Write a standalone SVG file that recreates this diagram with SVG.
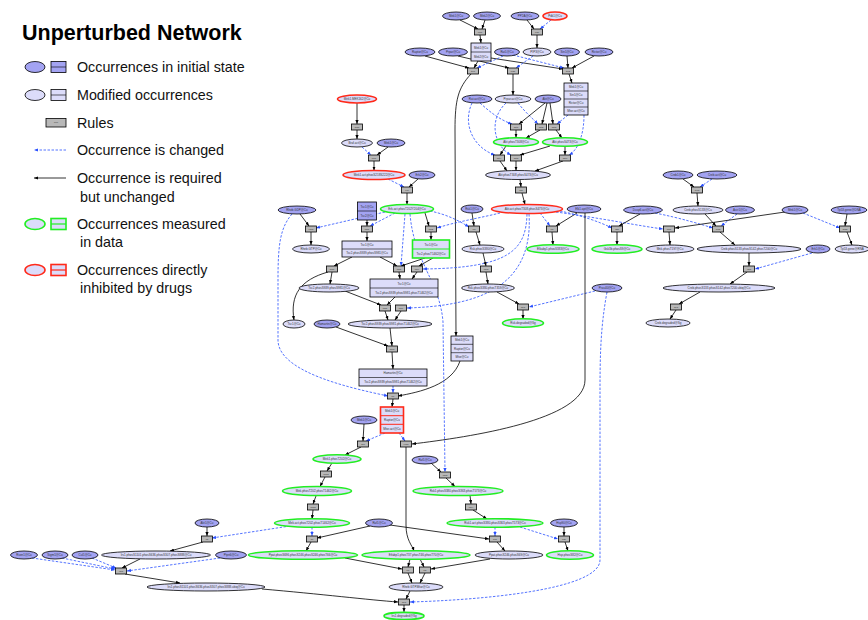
<svg xmlns="http://www.w3.org/2000/svg" width="868" height="620" viewBox="0 0 868 620">
<style>
.b{fill:#a3a3f2;stroke:#000;stroke-width:0.8}
.l{fill:#dcdcfa;stroke:#000;stroke-width:0.8}
.g{fill:#dcdcfa;stroke:#22ee22;stroke-width:1.6}
.r{fill:#dcdcfa;stroke:#ff2a1a;stroke-width:1.6}
.ru{fill:#b8b8b8;stroke:#000;stroke-width:0.8}
.sep{stroke:#000;stroke-width:0.6}
.k{fill:none;stroke:#000;stroke-width:0.8;marker-end:url(#ak)}
.d{fill:none;stroke:#2a50ff;stroke-width:0.8;stroke-dasharray:2.5 1.5;marker-end:url(#ab)}
.t{font-family:"Liberation Sans",Arial,sans-serif;font-size:3px;fill:#333;text-anchor:middle;dominant-baseline:central}
.lg{font-family:"Liberation Sans",Arial,sans-serif;font-size:14.3px;fill:#111}
.ttl{font-family:"Liberation Sans",Arial,sans-serif;font-size:21.5px;font-weight:bold;fill:#000}
</style>
<defs>
<marker id="ak" viewBox="0 0 10 10" refX="10" refY="5" markerUnits="userSpaceOnUse" markerWidth="4" markerHeight="4" orient="auto"><path d="M0,1L10,5L0,9z" fill="#000"/></marker>
<marker id="ab" viewBox="0 0 10 10" refX="10" refY="5" markerUnits="userSpaceOnUse" markerWidth="4" markerHeight="4" orient="auto"><path d="M0,1L10,5L0,9z" fill="#2a50ff"/></marker>
</defs>
<rect width="868" height="620" fill="#fff"/>

<g id="legend">
<text class="ttl" x="22" y="40">Unperturbed Network</text>
<ellipse class="b" cx="35" cy="67" rx="10" ry="5.5"/>
<rect class="b" x="51" y="61.5" width="15" height="11"/><line class="sep" x1="51" y1="67" x2="66" y2="67"/>
<text class="lg" x="77" y="72">Occurrences in initial state</text>
<ellipse class="l" cx="35" cy="95" rx="10" ry="5.5"/>
<rect class="l" x="51" y="89.5" width="15" height="11"/><line class="sep" x1="51" y1="95" x2="66" y2="95"/>
<text class="lg" x="77" y="100">Modified occurrences</text>
<rect class="ru" x="46" y="118.5" width="20" height="8.5"/><text class="t" x="56" y="122.8" style="font-size:2.5px">rule</text>
<text class="lg" x="77" y="128">Rules</text>
<line class="d" x1="66" y1="150" x2="34" y2="150"/>
<text class="lg" x="77" y="155">Occurrence is changed</text>
<line class="k" x1="66" y1="178" x2="34" y2="178"/>
<text class="lg" x="77" y="183">Occurrence is required</text>
<text class="lg" x="80" y="202">but unchanged</text>
<ellipse class="g" cx="35" cy="224" rx="10" ry="5.5"/>
<rect class="g" x="51" y="218.5" width="15" height="11"/><line x1="51" y1="224" x2="66" y2="224" stroke="#22ee22" stroke-width="1.2"/>
<text class="lg" x="77" y="229">Occurrences measured</text>
<text class="lg" x="80" y="247">in data</text>
<ellipse class="r" cx="35" cy="270" rx="10" ry="5.5"/>
<rect class="r" x="51" y="264.5" width="15" height="11"/><line x1="51" y1="270" x2="66" y2="270" stroke="#ff2a1a" stroke-width="1.2"/>
<text class="lg" x="77" y="275">Occurrences directly</text>
<text class="lg" x="80" y="293">inhibited by drugs</text>
</g>

<g id="connectors">
<path class="k" d="M460,20L478,29"/>
<path class="k" d="M485,20L482,29"/>
<path class="k" d="M527,20L534,29"/>
<path class="d" d="M551,20L540,29"/>
<path class="k" d="M480,35L481,43"/>
<path class="k" d="M537,35L537,48"/>
<path class="k" d="M425,56L469,68"/>
<path class="k" d="M458,56L509,68"/>
<path class="k" d="M478,61L474,68"/>
<path class="k" d="M491,58L563,69"/>
<path class="d" d="M503,56L477,68"/>
<path class="d" d="M513,55L564,68"/>
<path class="d" d="M533,56L516,68"/>
<path class="k" d="M567,56L568,68"/>
<path class="k" d="M594,56L572,68"/>
<path class="k" d="M569,74L572,83"/>
<path class="k" d="M513,74L513,95"/>
<path class="k" d="M471,74C458,88 455,100 455,130L456,336"/>
<path class="d" d="M480,103C490,112 500,120 512,124"/>
<path class="d" d="M472,103C462,125 474,148 495,155"/>
<path class="d" d="M518,103C525,112 532,118 538,124"/>
<path class="d" d="M506,103C488,120 494,146 511,155"/>
<path class="k" d="M545,103L519,124"/>
<path class="k" d="M547,103L542,124"/>
<path class="k" d="M550,103L553,124"/>
<path class="d" d="M568,115L557,124"/>
<path class="d" d="M584,115C584,135 578,150 569,155"/>
<path class="k" d="M516,130L516,137.5"/>
<path class="k" d="M540,130L526,138"/>
<path class="k" d="M556,130L562,138"/>
<path class="k" d="M506,146L500,155"/>
<path class="k" d="M550,146L520,155"/>
<path class="k" d="M565,146L565,155"/>
<path class="k" d="M500,161L507,171"/>
<path class="k" d="M516,161L516,170.5"/>
<path class="k" d="M563,161L535,171"/>
<path class="k" d="M520,179.5L521,187"/>
<path class="k" d="M357,103L357,124"/>
<path class="k" d="M357,130L357,139"/>
<path class="d" d="M362,147L371,155"/>
<path class="k" d="M388,147L377,155"/>
<path class="k" d="M374,161L374,170.5"/>
<path class="d" d="M388,179L404,187"/>
<path class="k" d="M418,179L409,187"/>
<path class="k" d="M407,193L407,204.5"/>
<path class="k" d="M522,193L525,204.5"/>
<path class="k" d="M300,214L309,226"/>
<path class="d" d="M385,212L316,228"/>
<path class="d" d="M395,213L370,226"/>
<path class="k" d="M367,220L367,226"/>
<path class="k" d="M425,213L429,226"/>
<path class="d" d="M500,213C480,218 455,222 437,228"/>
<path class="d" d="M430,211C445,214 458,220 469,227"/>
<path class="k" d="M472,213L474,226"/>
<path class="d" d="M540,213L550,226"/>
<path class="k" d="M577,213L556,226"/>
<path class="d" d="M560,211C580,215 600,222 612,228"/>
<path class="d" d="M556,212C600,218 640,226 663,229"/>
<path class="k" d="M640,214L619,226"/>
<path class="d" d="M655,213C680,218 700,224 713,228"/>
<path class="k" d="M705,214L716,226"/>
<path class="d" d="M737,214L721,226"/>
<path class="k" d="M785,212L675,228"/>
<path class="d" d="M803,213L840,228"/>
<path class="k" d="M847,214L845,226"/>
<path class="k" d="M683,179L694,187"/>
<path class="d" d="M712,179L700,187"/>
<path class="k" d="M697,193L698,206"/>
<path class="k" d="M311,232L311,245"/>
<path class="k" d="M367,232L367,241"/>
<path class="k" d="M431,232L431,240"/>
<path class="k" d="M476,232L480,245"/>
<path class="k" d="M552,232L553,245"/>
<path class="k" d="M617,232L617,245"/>
<path class="k" d="M669,232L670,245"/>
<path class="k" d="M720,232L735,245"/>
<path class="k" d="M847,232L852,245"/>
<path class="k" d="M352,257L334,266"/>
<path class="k" d="M380,257L397,266"/>
<path class="k" d="M425,258L401,266"/>
<path class="k" d="M433,258L419,266"/>
<path class="d" d="M405,214L401,266"/>
<path class="d" d="M527,214C526,250 510,268 423,269"/>
<path class="k" d="M483,253L486,266"/>
<path class="k" d="M749,253L749,266"/>
<path class="d" d="M812,253L755,269"/>
<path class="k" d="M332,272L330,284"/>
<path class="k" d="M328,272C300,280 290,295 294,320"/>
<path class="k" d="M399,272L400,279"/>
<path class="k" d="M417,272L412,279"/>
<path class="k" d="M486,272L488,284"/>
<path class="k" d="M747,272L730,284"/>
<path class="k" d="M345,291L381,305"/>
<path class="k" d="M395,297L387,305"/>
<path class="d" d="M529,214C534,292 470,306 407,308"/>
<path class="k" d="M497,292L519,304"/>
<path class="d" d="M595,291L529,307"/>
<path class="k" d="M523,310L523,319"/>
<path class="k" d="M385,311L388,320"/>
<path class="k" d="M401,311L395,320"/>
<path class="k" d="M700,292L679,304"/>
<path class="k" d="M676,310L670,319"/>
<path class="k" d="M336,327L388,346"/>
<path class="k" d="M390,328L392,346"/>
<path class="k" d="M392,352L393,369"/>
<path class="d" d="M393,386L393,393"/>
<path class="k" d="M460,361C452,385 420,392 398,396"/>
<path class="d" d="M292,214C280,228 278,245 278,280L278,340C278,372 350,388 388,396"/>
<path class="k" d="M393,399L392,407"/>
<path class="d" d="M410,214C414,262 440,282 443,322L445,472"/>
<path class="d" d="M385,433L366,441"/>
<path class="d" d="M399,433L405,441"/>
<path class="k" d="M364,424L363,441"/>
<path class="k" d="M585,213L585,380C585,420 470,437 412,444"/>
<path class="k" d="M361,447L345,455"/>
<path class="k" d="M332,463L327,471"/>
<path class="k" d="M325,477L320,486.5"/>
<path class="k" d="M406,447L406,525C406,540 412,545 414,551"/>
<path class="k" d="M431,463L441,472"/>
<path class="k" d="M446,478L455,486.5"/>
<path class="k" d="M316,496L313,504"/>
<path class="k" d="M470,495.5L471,504"/>
<path class="k" d="M313,510L312,519"/>
<path class="k" d="M473,510L487,519"/>
<path class="d" d="M290,526L212,538"/>
<path class="d" d="M312,527L312,536"/>
<path class="k" d="M370,526L317,538"/>
<path class="k" d="M390,525L489,539"/>
<path class="k" d="M207,527L207,536"/>
<path class="d" d="M495,527L495,536"/>
<path class="d" d="M520,527L558,539"/>
<path class="k" d="M564,527L564,536"/>
<path class="k" d="M203,542L170,551"/>
<path class="k" d="M311,542L306,551"/>
<path class="k" d="M497,542L505,551"/>
<path class="k" d="M565,542L568,551"/>
<path class="d" d="M32,558L115,570"/>
<path class="d" d="M62,558L115,569"/>
<path class="d" d="M92,558L116,568"/>
<path class="d" d="M220,558L127,571"/>
<path class="k" d="M140,559L122,568"/>
<path class="k" d="M125,574L180,583"/>
<path class="k" d="M345,558L402,569"/>
<path class="k" d="M410,559L408,567"/>
<path class="k" d="M420,559L424,567"/>
<path class="k" d="M490,559L431,569"/>
<path class="k" d="M408,573L412,583"/>
<path class="k" d="M425,573L420,583"/>
<path class="k" d="M262,589C320,594 370,600 398,602"/>
<path class="k" d="M410,591L406,599"/>
<path class="d" d="M607,292C600,330 600,360 600,400L600,560C600,590 480,600 410,602"/>
<path class="k" d="M404,605L404,612"/>
</g>

<g id="n1"><ellipse class="b" cx="456" cy="16" rx="13.5" ry="4"/><text class="t" x="456" y="16">Mek1@Cu</text></g>
<g id="n2"><ellipse class="b" cx="487" cy="16" rx="13.5" ry="4"/><text class="t" x="487" y="16">Mek2@Cu</text></g>
<g id="n3"><ellipse class="b" cx="525" cy="16" rx="14" ry="4"/><text class="t" x="525" y="16">PP2A@Cu</text></g>
<g id="n4"><ellipse class="r" cx="555" cy="16" rx="12" ry="4"/><text class="t" x="555" y="16">Pdk1@Cu</text></g>
<g id="n5"><ellipse class="b" cx="420" cy="52" rx="15" ry="4"/><text class="t" x="420" y="52">Raptor@Cu</text></g>
<g id="n6"><ellipse class="b" cx="453" cy="52" rx="14.5" ry="4"/><text class="t" x="453" y="52">Prpar@Cu</text></g>
<g id="n7"><ellipse class="b" cx="507" cy="52" rx="12.5" ry="4"/><text class="t" x="507" y="52">Rat1@Cu</text></g>
<g id="n8"><ellipse class="l" cx="537" cy="52" rx="14" ry="4"/><text class="t" x="537" y="52">PIP3@Cu</text></g>
<g id="n9"><ellipse class="b" cx="567" cy="52" rx="12.5" ry="4"/><text class="t" x="567" y="52">Sin1@Cu</text></g>
<g id="n10"><ellipse class="b" cx="599" cy="52" rx="14" ry="4"/><text class="t" x="599" y="52">Rictor@Cu</text></g>
<g id="n11"><ellipse class="b" cx="477" cy="99" rx="15" ry="4"/><text class="t" x="477" y="99">Rat.act@Cu</text></g>
<g id="n12"><ellipse class="l" cx="513" cy="99" rx="18" ry="4"/><text class="t" x="513" y="99">Prpar.act@Cu</text></g>
<g id="n13"><ellipse class="b" cx="548" cy="99" rx="13" ry="4"/><text class="t" x="548" y="99">Akt@Cu</text></g>
<g id="n14"><ellipse class="g" cx="516" cy="142" rx="22.5" ry="4.3"/><text class="t" x="516" y="142">Akt.phosT308@Cu</text></g>
<g id="n15"><ellipse class="g" cx="565" cy="142" rx="22.5" ry="4.3"/><text class="t" x="565" y="142">Akt.phosS473@Cu</text></g>
<g id="n16"><ellipse class="l" cx="518" cy="175" rx="32.5" ry="4.5"/><text class="t" x="518" y="175">Akt.phosT308.phosS473@Cu</text></g>
<g id="n17"><ellipse class="r" cx="357" cy="99" rx="19.5" ry="4"/><text class="t" x="357" y="99">Mek1.MEK162@Cu</text></g>
<g id="n18"><ellipse class="l" cx="357" cy="143" rx="15.5" ry="4"/><text class="t" x="357" y="143">Braf.act@Cu</text></g>
<g id="n19"><ellipse class="b" cx="391" cy="143" rx="14" ry="4"/><text class="t" x="391" y="143">Mek1@Cu</text></g>
<g id="n20"><ellipse class="r" cx="374" cy="175" rx="31" ry="4.5"/><text class="t" x="374" y="175">Mek1.act.phosS218S222@Cu</text></g>
<g id="n21"><ellipse class="b" cx="422" cy="175" rx="13" ry="4"/><text class="t" x="422" y="175">Erk2@Cu</text></g>
<g id="n22"><ellipse class="b" cx="297" cy="210" rx="19" ry="4"/><text class="t" x="297" y="210">Rheb.GDP@Cu</text></g>
<g id="n23"><ellipse class="g" cx="407" cy="209" rx="26.5" ry="4.5"/><text class="t" x="407" y="209">Erk.act.phosT202Y204@Cu</text></g>
<g id="n24"><ellipse class="b" cx="472" cy="209" rx="11" ry="4"/><text class="t" x="472" y="209">Rsk1@Cu</text></g>
<g id="n25"><ellipse class="r" cx="527" cy="209" rx="35.5" ry="4.5"/><text class="t" x="527" y="209">Akt.act.phosT308.phosS473@Cu</text></g>
<g id="n26"><ellipse class="b" cx="584" cy="209" rx="17" ry="4"/><text class="t" x="584" y="209">Elk1.apt@Cu</text></g>
<g id="n27"><ellipse class="b" cx="643" cy="210" rx="19.5" ry="4"/><text class="t" x="643" y="210">Dusp6.act@Cu</text></g>
<g id="n28"><ellipse class="l" cx="698" cy="210" rx="25" ry="4"/><text class="t" x="698" y="210">Creb.phosS133@Cu</text></g>
<g id="n29"><ellipse class="b" cx="740" cy="210" rx="14.5" ry="4"/><text class="t" x="740" y="210">Astr1@Cu</text></g>
<g id="n30"><ellipse class="b" cx="795" cy="210" rx="13" ry="4"/><text class="t" x="795" y="210">Mnk1@Cu</text></g>
<g id="n31"><ellipse class="b" cx="849" cy="210" rx="18" ry="4"/><text class="t" x="849" y="210">Tp53.gene@DNA</text></g>
<g id="n32"><ellipse class="b" cx="678" cy="175" rx="15" ry="4"/><text class="t" x="678" y="175">Creb1@Cu</text></g>
<g id="n33"><ellipse class="b" cx="717" cy="175" rx="20" ry="4"/><text class="t" x="717" y="175">Creb.act@Cu</text></g>
<g id="n34"><ellipse class="l" cx="311" cy="249" rx="18.5" ry="4"/><text class="t" x="311" y="249">Rheb.GTP@Cu</text></g>
<g id="n35"><ellipse class="l" cx="483" cy="249" rx="21" ry="4"/><text class="t" x="483" y="249">Rsk.phosS380@Cu</text></g>
<g id="n36"><ellipse class="g" cx="553" cy="249" rx="26" ry="4.3"/><text class="t" x="553" y="249">Elkaby1.phosS383@Cu</text></g>
<g id="n37"><ellipse class="g" cx="617" cy="249" rx="25" ry="4.3"/><text class="t" x="617" y="249">Gsk3b.phosS9@Cu</text></g>
<g id="n38"><ellipse class="l" cx="670" cy="249" rx="24" ry="4"/><text class="t" x="670" y="249">Mnk.phosT197@Cu</text></g>
<g id="n39"><ellipse class="l" cx="749" cy="249" rx="52" ry="4"/><text class="t" x="749" y="249">Creb.phosS133.phosS142.phosT200@Cu</text></g>
<g id="n40"><ellipse class="b" cx="818" cy="249" rx="12" ry="4"/><text class="t" x="818" y="249">Erk1@Cu</text></g>
<g id="n41"><ellipse class="l" cx="852" cy="249" rx="17" ry="4"/><text class="t" x="852" y="249">Tp53.gene@RNA</text></g>
<g id="n42"><ellipse class="l" cx="329" cy="288" rx="30" ry="4"/><text class="t" x="329" y="288">Tsc2.phosS939.phosS981@Cu</text></g>
<g id="n43"><ellipse class="l" cx="488" cy="288" rx="26.5" ry="4"/><text class="t" x="488" y="288">Rsk.phosS380.phosT359@Cu</text></g>
<g id="n44"><ellipse class="b" cx="607" cy="288" rx="15" ry="4"/><text class="t" x="607" y="288">Pras40@Cu</text></g>
<g id="n45"><ellipse class="l" cx="719" cy="288" rx="56" ry="4"/><text class="t" x="719" y="288">Creb.phosS133.phosS142.phosT200.ubiq@Cu</text></g>
<g id="n46"><ellipse class="g" cx="523" cy="323" rx="20.5" ry="4.3"/><text class="t" x="523" y="323">Rsk.degraded@Sg</text></g>
<g id="n47"><ellipse class="l" cx="668" cy="323" rx="22" ry="4"/><text class="t" x="668" y="323">Creb.degraded@Sg</text></g>
<g id="n48"><ellipse class="l" cx="294" cy="324" rx="11" ry="4"/><text class="t" x="294" y="324">Tsc1@Cu</text></g>
<g id="n49"><ellipse class="b" cx="327" cy="324" rx="13" ry="4"/><text class="t" x="327" y="324">Hamartin@Cu</text></g>
<g id="n50"><ellipse class="l" cx="390" cy="324" rx="42" ry="4"/><text class="t" x="390" y="324">Tsc2.phosS939.phosS981.phosT1462@Cu</text></g>
<g id="n51"><ellipse class="b" cx="364" cy="420" rx="13" ry="4"/><text class="t" x="364" y="420">Mek1@Cu</text></g>
<g id="n52"><ellipse class="g" cx="337" cy="459" rx="24" ry="4.3"/><text class="t" x="337" y="459">Mek1.phosT202@Cu</text></g>
<g id="n53"><ellipse class="b" cx="425" cy="460" rx="13" ry="4"/><text class="t" x="425" y="460">Raf1@Cu</text></g>
<g id="n54"><ellipse class="g" cx="317" cy="491" rx="34.5" ry="4.5"/><text class="t" x="317" y="491">Mek.phosT202.phosT1462@Cu</text></g>
<g id="n55"><ellipse class="g" cx="458" cy="491" rx="45" ry="4.5"/><text class="t" x="458" y="491">Rsk1.phosS380.phosS363.phosT573@Cu</text></g>
<g id="n56"><ellipse class="g" cx="312" cy="523" rx="37.5" ry="4.3"/><text class="t" x="312" y="523">Mek.act.phosT202.phosT1462@Cu</text></g>
<g id="n57"><ellipse class="b" cx="207" cy="523" rx="12" ry="4"/><text class="t" x="207" y="523">Akt1@Cu</text></g>
<g id="n58"><ellipse class="b" cx="379" cy="523" rx="13.5" ry="4"/><text class="t" x="379" y="523">Raf1@Cu</text></g>
<g id="n59"><ellipse class="g" cx="495" cy="523" rx="48" ry="4.3"/><text class="t" x="495" y="523">Rsk1.act.phosS380.phosS363.phosT573@Cu</text></g>
<g id="n60"><ellipse class="b" cx="564" cy="523" rx="13.5" ry="4"/><text class="t" x="564" y="523">Hsp90@Cu</text></g>
<g id="n61"><ellipse class="b" cx="24" cy="555" rx="13.5" ry="4"/><text class="t" x="24" y="555">Rsen1@Cu</text></g>
<g id="n62"><ellipse class="b" cx="55" cy="555" rx="13" ry="4"/><text class="t" x="55" y="555">Sigm1@Cu</text></g>
<g id="n63"><ellipse class="b" cx="85" cy="555" rx="13" ry="4"/><text class="t" x="85" y="555">Cul1@Cu</text></g>
<g id="n64"><ellipse class="l" cx="156" cy="555" rx="54.5" ry="4"/><text class="t" x="156" y="555">Irs1.phosS1101.phosS636.phosS307.phosS888@Cu</text></g>
<g id="n65"><ellipse class="b" cx="231" cy="555" rx="15.5" ry="4"/><text class="t" x="231" y="555">Ptpn6@Cu</text></g>
<g id="n66"><ellipse class="g" cx="303" cy="555" rx="54.5" ry="4.3"/><text class="t" x="303" y="555">Ppat.phosS696.phosS246.phosS246.phosT66@Cu</text></g>
<g id="n67"><ellipse class="g" cx="416" cy="555" rx="54" ry="4.3"/><text class="t" x="416" y="555">Eifabp1.phosT37.phosT46.phosT70@Cu</text></g>
<g id="n68"><ellipse class="l" cx="509" cy="555" rx="34" ry="4"/><text class="t" x="509" y="555">Ppat.phosS246.phosS69@Cu</text></g>
<g id="n69"><ellipse class="g" cx="570" cy="555" rx="23.5" ry="4.3"/><text class="t" x="570" y="555">Hsp.phosS82@Cu</text></g>
<g id="n70"><ellipse class="l" cx="206" cy="587" rx="59" ry="4"/><text class="t" x="206" y="587">Irs1.phosS1101.phosS636.phosS307.phosS888.ubiq@Cu</text></g>
<g id="n71"><ellipse class="l" cx="416" cy="587" rx="27" ry="4"/><text class="t" x="416" y="587">Rheb.GTP.Mtor@Cu</text></g>
<g id="n72"><ellipse class="g" cx="404" cy="616" rx="20" ry="3.6"/><text class="t" x="404" y="616">Irs1.degraded@Sg</text></g>

<g id="c1"><rect class="l" x="471" y="43" width="20" height="18"/><line class="sep" x1="471" y1="52" x2="491" y2="52"/><text class="t" x="481" y="47.5">Mek1@Cu</text><text class="t" x="481" y="56.5">Mek2@Cu</text></g>
<g id="c2"><rect class="l" x="564" y="83" width="24" height="32"/><line class="sep" x1="564" y1="91" x2="588" y2="91"/><line class="sep" x1="564" y1="99" x2="588" y2="99"/><line class="sep" x1="564" y1="107" x2="588" y2="107"/><text class="t" x="576" y="87">Mek1@Cu</text><text class="t" x="576" y="95">Sin1@Cu</text><text class="t" x="576" y="103">Rictor@Cu</text><text class="t" x="576" y="111">Mtor.act@Cu</text></g>
<g id="c3"><rect class="b" x="357.5" y="202" width="19" height="18"/><line class="sep" x1="357.5" y1="211" x2="376.5" y2="211"/><text class="t" x="367" y="206.5">Tsc1@Cu</text><text class="t" x="367" y="215.5">Tsc2@Cu</text></g>
<g id="c4"><rect class="l" x="342" y="241" width="50" height="16"/><line class="sep" x1="342" y1="249" x2="392" y2="249"/><text class="t" x="367" y="245">Tsc1@Cu</text><text class="t" x="367" y="253">Tsc2.phosS939.phosS981@Cu</text></g>
<g id="c5"><rect class="g" x="412.5" y="240" width="37" height="18"/><line x1="412.5" y1="249" x2="449.5" y2="249" stroke="#22ee22" stroke-width="1"/><text class="t" x="431" y="244.5">Tsc1@Cu</text><text class="t" x="431" y="253.5">Tsc2.phosT1462@Cu</text></g>
<g id="c6"><rect class="l" x="370" y="279" width="68" height="18"/><line class="sep" x1="370" y1="288" x2="438" y2="288"/><text class="t" x="404" y="283.5">Tsc1@Cu</text><text class="t" x="404" y="292.5">Tsc2.phosS939.phosS981.phosT1462@Cu</text></g>
<g id="c7"><rect class="l" x="451" y="336" width="22" height="25"/><line class="sep" x1="451" y1="344.3" x2="473" y2="344.3"/><line class="sep" x1="451" y1="352.7" x2="473" y2="352.7"/><text class="t" x="462" y="340.2">Mek1@Cu</text><text class="t" x="462" y="348.5">Raptor@Cu</text><text class="t" x="462" y="356.8">Mtor@Cu</text></g>
<g id="c8"><rect class="l" x="359" y="369" width="68" height="17"/><line class="sep" x1="359" y1="377.5" x2="427" y2="377.5"/><text class="t" x="393" y="373.2">Hamartin@Cu</text><text class="t" x="393" y="381.8">Tsc2.phosS939.phosS981.phosT1462@Cu</text></g>
<g id="c9"><rect class="r" x="380.5" y="407" width="23" height="26"/><line x1="380.5" y1="415.7" x2="403.5" y2="415.7" stroke="#ff2a1a" stroke-width="1"/><line x1="380.5" y1="424.3" x2="403.5" y2="424.3" stroke="#ff2a1a" stroke-width="1"/><text class="t" x="392" y="411.3">Mek1@Cu</text><text class="t" x="392" y="420">Raptor@Cu</text><text class="t" x="392" y="428.7">Mtor.act@Cu</text></g>

<g id="r1"><rect class="ru" x="474.5" y="29" width="11" height="6"/><text class="t" x="480" y="32" style="font-size:2.4px">Mek</text></g>
<g id="r2"><rect class="ru" x="531.5" y="29" width="11" height="6"/><text class="t" x="537" y="32" style="font-size:2.4px">pdk</text></g>
<g id="r3"><rect class="ru" x="467.5" y="68" width="11" height="6"/><text class="t" x="473" y="71" style="font-size:2.4px">tor1</text></g>
<g id="r4"><rect class="ru" x="507.5" y="68" width="11" height="6"/><text class="t" x="513" y="71" style="font-size:2.4px">pi3k</text></g>
<g id="r5"><rect class="ru" x="562.5" y="68" width="11" height="6"/><text class="t" x="568" y="71" style="font-size:2.4px">tor2</text></g>
<g id="r6"><rect class="ru" x="510.5" y="124" width="11" height="6"/><text class="t" x="516" y="127" style="font-size:2.4px">akt1</text></g>
<g id="r7"><rect class="ru" x="535.5" y="124" width="11" height="6"/><text class="t" x="541" y="127" style="font-size:2.4px">akt2</text></g>
<g id="r8"><rect class="ru" x="548.5" y="124" width="11" height="6"/><text class="t" x="554" y="127" style="font-size:2.4px">akt3</text></g>
<g id="r9"><rect class="ru" x="493.5" y="155" width="11" height="6"/><text class="t" x="499" y="158" style="font-size:2.4px">akt4</text></g>
<g id="r10"><rect class="ru" x="510.5" y="155" width="11" height="6"/><text class="t" x="516" y="158" style="font-size:2.4px">akt5</text></g>
<g id="r11"><rect class="ru" x="559.5" y="155" width="11" height="6"/><text class="t" x="565" y="158" style="font-size:2.4px">akt6</text></g>
<g id="r12"><rect class="ru" x="515.5" y="187" width="11" height="6"/><text class="t" x="521" y="190" style="font-size:2.4px">inhi</text></g>
<g id="r13"><rect class="ru" x="351.5" y="124" width="11" height="6"/><text class="t" x="357" y="127" style="font-size:2.4px">diss</text></g>
<g id="r14"><rect class="ru" x="368.5" y="155" width="11" height="6"/><text class="t" x="374" y="158" style="font-size:2.4px">mek</text></g>
<g id="r15"><rect class="ru" x="401.5" y="187" width="11" height="6"/><text class="t" x="407" y="190" style="font-size:2.4px">erk</text></g>
<g id="r16"><rect class="ru" x="691.5" y="187" width="11" height="6"/><text class="t" x="697" y="190" style="font-size:2.4px">creb</text></g>
<g id="r17"><rect class="ru" x="305.5" y="226" width="11" height="6"/><text class="t" x="311" y="229" style="font-size:2.4px">rheb</text></g>
<g id="r18"><rect class="ru" x="361.5" y="226" width="11" height="6"/><text class="t" x="367" y="229" style="font-size:2.4px">tsc1</text></g>
<g id="r19"><rect class="ru" x="425.5" y="226" width="11" height="6"/><text class="t" x="431" y="229" style="font-size:2.4px">tsc2</text></g>
<g id="r20"><rect class="ru" x="468.5" y="226" width="11" height="6"/><text class="t" x="474" y="229" style="font-size:2.4px">rsk</text></g>
<g id="r21"><rect class="ru" x="546.5" y="226" width="11" height="6"/><text class="t" x="552" y="229" style="font-size:2.4px">elk</text></g>
<g id="r22"><rect class="ru" x="611.5" y="226" width="11" height="6"/><text class="t" x="617" y="229" style="font-size:2.4px">gsk</text></g>
<g id="r23"><rect class="ru" x="663.5" y="226" width="11" height="6"/><text class="t" x="669" y="229" style="font-size:2.4px">mnk</text></g>
<g id="r24"><rect class="ru" x="712.5" y="226" width="11" height="6"/><text class="t" x="718" y="229" style="font-size:2.4px">crb2</text></g>
<g id="r25"><rect class="ru" x="839.5" y="226" width="11" height="6"/><text class="t" x="845" y="229" style="font-size:2.4px">tp53</text></g>
<g id="r26"><rect class="ru" x="326.5" y="266" width="11" height="6"/><text class="t" x="332" y="269" style="font-size:2.4px">diss</text></g>
<g id="r27"><rect class="ru" x="393.5" y="266" width="11" height="6"/><text class="t" x="399" y="269" style="font-size:2.4px">tsc3</text></g>
<g id="r28"><rect class="ru" x="411.5" y="266" width="11" height="6"/><text class="t" x="417" y="269" style="font-size:2.4px">tsc4</text></g>
<g id="r29"><rect class="ru" x="480.5" y="266" width="11" height="6"/><text class="t" x="486" y="269" style="font-size:2.4px">rsk2</text></g>
<g id="r30"><rect class="ru" x="743.5" y="266" width="11" height="6"/><text class="t" x="749" y="269" style="font-size:2.4px">ubq</text></g>
<g id="r31"><rect class="ru" x="379.5" y="305" width="11" height="6"/><text class="t" x="385" y="308" style="font-size:2.4px">tsc5</text></g>
<g id="r32"><rect class="ru" x="395.5" y="305" width="11" height="6"/><text class="t" x="401" y="308" style="font-size:2.4px">tsc6</text></g>
<g id="r33"><rect class="ru" x="517.5" y="304" width="11" height="6"/><text class="t" x="523" y="307" style="font-size:2.4px">deg</text></g>
<g id="r34"><rect class="ru" x="670.5" y="304" width="11" height="6"/><text class="t" x="676" y="307" style="font-size:2.4px">deg</text></g>
<g id="r35"><rect class="ru" x="386.5" y="346" width="11" height="6"/><text class="t" x="392" y="349" style="font-size:2.4px">bind</text></g>
<g id="r36"><rect class="ru" x="387.5" y="393" width="11" height="6"/><text class="t" x="393" y="396" style="font-size:2.4px">tor</text></g>
<g id="r37"><rect class="ru" x="357.5" y="441" width="11" height="6"/><text class="t" x="363" y="444" style="font-size:2.4px">s6k</text></g>
<g id="r38"><rect class="ru" x="400.5" y="441" width="11" height="6"/><text class="t" x="406" y="444" style="font-size:2.4px">4ebp</text></g>
<g id="r39"><rect class="ru" x="320.5" y="471" width="11" height="6"/><text class="t" x="326" y="474" style="font-size:2.4px">s6k2</text></g>
<g id="r40"><rect class="ru" x="439.5" y="472" width="11" height="6"/><text class="t" x="445" y="475" style="font-size:2.4px">rsk3</text></g>
<g id="r41"><rect class="ru" x="307.5" y="504" width="11" height="6"/><text class="t" x="313" y="507" style="font-size:2.4px">s6k3</text></g>
<g id="r42"><rect class="ru" x="465.5" y="504" width="11" height="6"/><text class="t" x="471" y="507" style="font-size:2.4px">rsk4</text></g>
<g id="r43"><rect class="ru" x="201.5" y="536" width="11" height="6"/><text class="t" x="207" y="539" style="font-size:2.4px">irs</text></g>
<g id="r44"><rect class="ru" x="306.5" y="536" width="11" height="6"/><text class="t" x="312" y="539" style="font-size:2.4px">s6</text></g>
<g id="r45"><rect class="ru" x="489.5" y="536" width="11" height="6"/><text class="t" x="495" y="539" style="font-size:2.4px">s6b</text></g>
<g id="r46"><rect class="ru" x="558.5" y="536" width="11" height="6"/><text class="t" x="564" y="539" style="font-size:2.4px">hsp</text></g>
<g id="r47"><rect class="ru" x="115.5" y="568" width="11" height="6"/><text class="t" x="121" y="571" style="font-size:2.4px">ubq</text></g>
<g id="r48"><rect class="ru" x="402.5" y="567" width="11" height="6"/><text class="t" x="408" y="570" style="font-size:2.4px">tr1</text></g>
<g id="r49"><rect class="ru" x="419.5" y="567" width="11" height="6"/><text class="t" x="425" y="570" style="font-size:2.4px">tr2</text></g>
<g id="r50"><rect class="ru" x="398.5" y="599" width="11" height="6"/><text class="t" x="404" y="602" style="font-size:2.4px">deg</text></g>
</svg>
